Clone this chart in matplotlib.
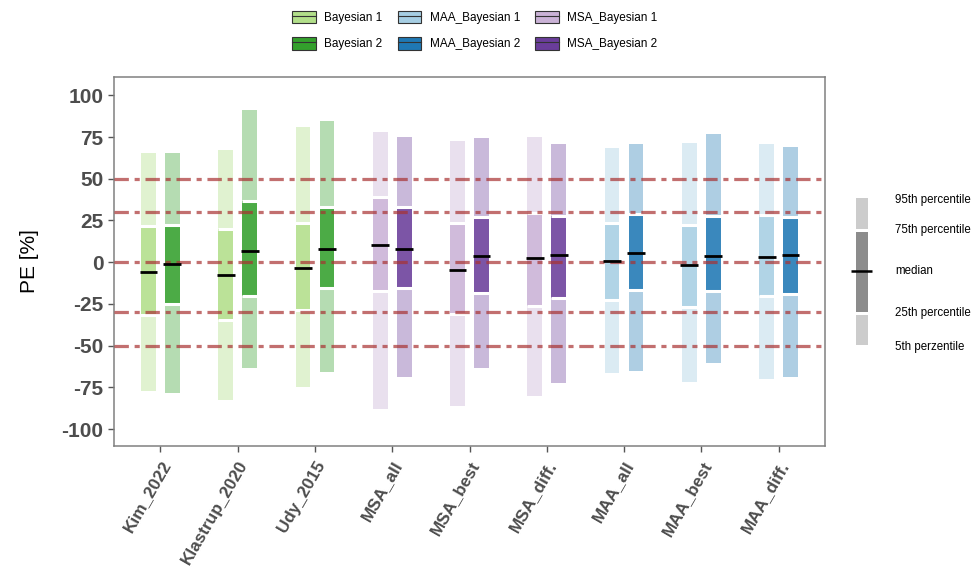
import matplotlib
matplotlib.use("Agg")
import matplotlib.pyplot as plt
from matplotlib.patches import Patch
from matplotlib.lines import Line2D
from matplotlib.legend_handler import HandlerTuple
import numpy as np

plt.rcParams['font.family'] = ['Liberation Sans', 'DejaVu Sans']

categories = ['Kim_2022', 'Klastrup_2020', 'Udy_2015', 'MSA_all', 'MSA_best',
              'MSA_diff.', 'MAA_all', 'MAA_best', 'MAA_diff.']

# series 1 (Bayesian 1 / MSA_Bayesian 1 / MAA_Bayesian 1)
p5_1 = [-77.3, -82.7, -75.1, -87.8, -86.2, -80.2, -66.6, -71.6, -70.2]
p25_1 = [-31.4, -34.4, -28.4, -17.5, -30.8, -26.4, -22.4, -26.8, -20.4]
med_1 = [-5.9, -7.5, -3.7, 10.0, -4.6, 2.5, 0.5, -1.5, 3.2]
p75_1 = [21.8, 19.9, 23.5, 39.0, 23.5, 29.4, 23.5, 22.4, 28.0]
p95_1 = [65.7, 67.4, 81.3, 78.2, 72.9, 74.9, 68.3, 71.7, 70.7]

# series 2 (Bayesian 2 / MSA_Bayesian 2 / MAA_Bayesian 2)
p5_2 = [-78.5, -63.6, -66.0, -68.6, -63.5, -72.6, -65.0, -60.2, -68.8]
p25_2 = [-24.9, -20.5, -15.5, -15.6, -18.4, -21.4, -16.8, -17.4, -18.8]
med_2 = [-0.9, 6.7, 7.7, 8.1, 3.8, 4.5, 5.5, 3.8, 4.0]
p75_2 = [22.3, 36.4, 33.0, 32.8, 26.8, 27.4, 28.8, 27.4, 26.8]
p95_2 = [65.7, 91.3, 84.9, 74.9, 74.7, 70.9, 70.9, 76.9, 68.9]

ref_lines = [50, 30, 0, -30, -50]

legend_labels = ['Bayesian 1', 'Bayesian 2', 'MAA_Bayesian 1', 'MAA_Bayesian 2',
                 'MSA_Bayesian 1', 'MSA_Bayesian 2']
colors = {'Bayesian 1': '#b2df8a', 'Bayesian 2': '#33a02c',
          'MAA_Bayesian 1': '#a6cee3', 'MAA_Bayesian 2': '#1f78b4',
          'MSA_Bayesian 1': '#cab2d6', 'MSA_Bayesian 2': '#6a3d9a'}

def group_of(cat):
    if cat.startswith('MSA'):
        return 'MSA_'
    if cat.startswith('MAA'):
        return 'MAA_'
    return ''

fig = plt.figure(figsize=(9.71, 5.69), dpi=100)
ax = fig.add_axes([114/971, 1-445.7/569, (825-114)/971, (445.7-77.3)/569])

x = np.arange(len(categories))
off = 0.155
w = 0.19
series = [(p5_1, p25_1, med_1, p75_1, p95_1, 'Bayesian 1', -off, 0.88, 0.4),
          (p5_2, p25_2, med_2, p75_2, p95_2, 'Bayesian 2', off, 0.88, 0.36)]
for p5, p25, med, p75, p95, base, dx, a_mid, a_out in series:
    for i, cat in enumerate(categories):
        col = colors[group_of(cat) + base]
        xi = x[i] + dx
        ax.bar(xi, p25[i] - p5[i], bottom=p5[i], width=w, color=col, alpha=a_out,
               edgecolor='none', zorder=2)
        ax.bar(xi, p75[i] - p25[i], bottom=p25[i], width=w, color=col, alpha=a_mid,
               edgecolor='none', zorder=2)
        ax.bar(xi, p95[i] - p75[i], bottom=p75[i], width=w, color=col, alpha=a_out,
               edgecolor='none', zorder=2)
        # white separators
        for b in (p25[i], p75[i]):
            ax.hlines(b, xi - w/2 - 0.01, xi + w/2 + 0.01, color='white', lw=2.2, zorder=3)
        ax.hlines(med[i], xi - w/2 - 0.02, xi + w/2 + 0.02, color='black', lw=2.0, zorder=5)

for r in ref_lines:
    ax.axhline(r, color='#a83232', alpha=0.7, lw=2.3, dashes=(4.5, 1.8, 1.6, 1.8), zorder=4)

ax.set_xlim(-0.6, 8.6)
ax.set_ylim(-110, 110.8)
ax.set_yticks([100, 75, 50, 25, 0, -25, -50, -75, -100])
ax.set_yticklabels(['100', '75', '50', '25', '0', '-25', '-50', '-75', '-100'],
                   fontsize=15, fontweight='bold', color='#4d4d4d')
ax.set_xticks(x)
ax.set_xticklabels(categories, rotation=60, ha='right', va='top', rotation_mode='anchor',
                   fontsize=12.3, fontweight='bold', color='#4d4d4d')
ax.tick_params(axis='both', color='#555555', length=4, width=1)
ax.tick_params(axis='x', pad=5)
for s in ax.spines.values():
    s.set_color('#808080')
    s.set_linewidth(1.1)
ax.set_ylabel('PE [%]', fontsize=15, color='black')
ax.yaxis.set_label_coords(-0.105, 0.5)

# top legend
handles = []
for lab in legend_labels:
    handles.append((Patch(facecolor=colors[lab], edgecolor='#333333', lw=0.8),
                    Line2D([], [], color='#333333', lw=0.8)))
fig.legend(handles, legend_labels, ncol=3, loc='upper center',
           bbox_to_anchor=(0.489, 1.0), frameon=False, fontsize=8.5,
           handler_map={tuple: HandlerTuple(ndivide=1)},
           handlelength=2.0, handleheight=1.3, columnspacing=1.3, handletextpad=0.7,
           labelspacing=1.1)

# right-hand key
kax = fig.add_axes([840/971, 190/569, 131/971, 200/569])
kax.set_xlim(840, 971)
kax.set_ylim(190, 390)
kax.axis('off')
key_segments = [(224, 254, '#cccccc'), (257, 337, '#8c8c8c'), (340, 371, '#cccccc')]
for b0, b1, c in key_segments:
    kax.bar(861.5, b1 - b0, bottom=b0, width=12, color=c, edgecolor='none')
kax.hlines(298, 851, 872, color='black', lw=1.8)
key_labels = ['95th percentile', '75th percentile', 'median', '25th percentile', '5th perzentile']
key_label_y = [369, 339, 298, 256, 222]
for lab, yy in zip(key_labels, key_label_y):
    kax.text(895, yy, lab, fontsize=8.3, va='center', ha='left', clip_on=False)

fig.savefig('out.png', dpi=100)
